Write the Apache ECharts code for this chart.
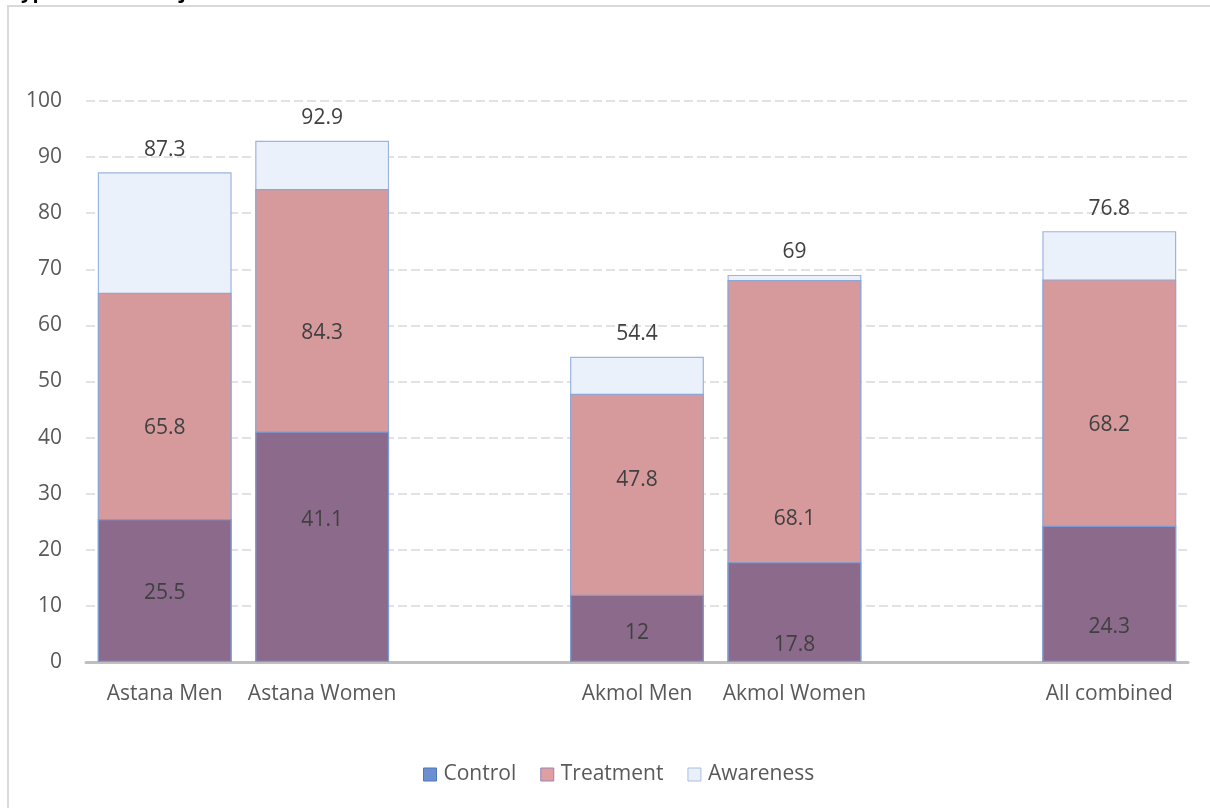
<!DOCTYPE html>
<html>
<head>
<meta charset="utf-8">
<script src="https://cdn.jsdelivr.net/npm/echarts@6/dist/echarts.min.js"></script>
<style>
  html, body { margin: 0; padding: 0; background: #ffffff; }
  #chart { width: 1210px; height: 808px; }
</style>
</head>
<body>
<div id="chart"></div>
<script>
// Groups along the x axis; the blank entries are spacer slots between regions.
const categories = ['Astana Men', 'Astana Women', '', 'Akmol Men', 'Akmol Women', '', 'All combined'];

// Percentages (cumulative levels: control ≤ treatment ≤ awareness)
const control   = [25.5, 41.1, null, 12,   17.8, null, 24.3];
const treatment = [65.8, 84.3, null, 47.8, 68.1, null, 68.2];
const awareness = [87.3, 92.9, null, 54.4, 69,   null, 76.8];

const yTicks = { min: 0, max: 100, interval: 10 };

// ---- layout ----
const FONT = '"Open Sans", "Noto Sans", sans-serif';
const FONT_SIZE = 21;
const GRID = { left: 86, right: 22, top: 101, bottom: 146 };
const plotHeight = 808 - GRID.top - GRID.bottom;
const pxPerUnit = plotHeight / (yTicks.max - yTicks.min);

// Height (axis units) at which each in-bar value label sits
const controlLabelLevel   = [12.3, 25.3, null, 5.2, 3.0, null, 6.2];
const treatmentLabelLevel = [41.7, 58.6, null, 32.4, 25.5, null, 42.2];

function withInnerLabels(values, levels) {
  return values.map((v, i) => v == null ? null : {
    value: v,
    label: {
      position: ['50%', (v - levels[i]) * pxPerUnit],
      align: 'center',
      verticalAlign: 'middle'
    }
  });
}

const labelText = { color: '#404040', fontSize: FONT_SIZE, fontFamily: FONT };

const chart = echarts.init(document.getElementById('chart'), null, { renderer: 'canvas' });

chart.setOption({
  backgroundColor: '#ffffff',
  animation: false,
  textStyle: { fontFamily: FONT },
  graphic: [
    {
      type: 'rect',
      shape: { x: 8, y: 6, width: 1230, height: 900 },
      style: { fill: 'none', stroke: '#d9d9d9', lineWidth: 2 },
      silent: true
    },
    {
      type: 'text',
      x: 21, y: 2,
      style: {
        text: 'ypertensive subjects',
        font: 'bold 20px ' + FONT,
        fill: '#000000',
        verticalAlign: 'bottom'
      },
      silent: true
    }
  ],
  legend: {
    top: 759,
    left: 418,
    itemWidth: 13,
    itemHeight: 13,
    itemGap: 24,
    icon: 'rect',
    textStyle: { color: '#595959', fontSize: FONT_SIZE, fontFamily: FONT, padding: [0, 0, 0, 2] },
    data: [
      { name: 'Control',   itemStyle: { color: '#6c8fcf', borderColor: '#4f75bd', borderWidth: 1 } },
      { name: 'Treatment', itemStyle: { color: '#df9ea0', borderColor: '#9a86b8', borderWidth: 1 } },
      { name: 'Awareness', itemStyle: { color: '#e9f0f9', borderColor: '#a9bfe3', borderWidth: 1 } }
    ]
  },
  grid: {
    left: GRID.left, right: GRID.right, top: GRID.top, bottom: GRID.bottom,
    containLabel: false,
    outerBoundsMode: 'none'
  },
  xAxis: {
    type: 'category',
    data: categories,
    axisLine: { show: true, lineStyle: { color: '#bfbfbf', width: 3 } },
    axisTick: { show: false },
    axisLabel: { interval: 0, color: '#595959', fontSize: FONT_SIZE, fontFamily: FONT, margin: 22 },
    splitLine: { show: false }
  },
  yAxis: {
    type: 'value',
    min: yTicks.min,
    max: yTicks.max,
    interval: yTicks.interval,
    axisLine: { show: false },
    axisTick: { show: false },
    axisLabel: { color: '#595959', fontSize: FONT_SIZE, fontFamily: FONT, margin: 24 },
    splitLine: { show: true, lineStyle: { color: '#e2e2e2', width: 2, type: [9, 4] } }
  },
  series: [
    {
      name: 'Awareness',
      type: 'bar',
      barWidth: '85%',
      barGap: '-100%',
      data: awareness,
      itemStyle: { color: '#ebf1fa', borderColor: '#9db4df', borderWidth: 1.2 },
      label: { show: true, position: 'top', distance: 12, ...labelText }
    },
    {
      name: 'Treatment',
      type: 'bar',
      barWidth: '85%',
      barGap: '-100%',
      data: withInnerLabels(treatment, treatmentLabelLevel),
      itemStyle: { color: '#d69a9d', borderColor: '#8ea6d6', borderWidth: 1.2 },
      label: { show: true, ...labelText }
    },
    {
      name: 'Control',
      type: 'bar',
      barWidth: '85%',
      barGap: '-100%',
      data: withInnerLabels(control, controlLabelLevel),
      itemStyle: { color: '#8b6a8b', borderColor: '#7f9bd3', borderWidth: 1.2 },
      label: { show: true, ...labelText }
    }
  ]
});
</script>
</body>
</html>
